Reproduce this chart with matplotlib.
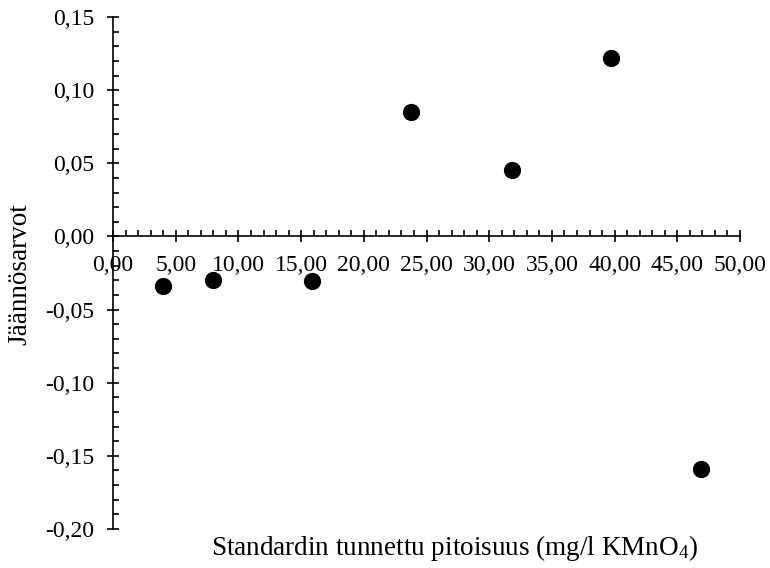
import matplotlib
matplotlib.use('Agg')
import matplotlib.pyplot as plt
from matplotlib.ticker import MultipleLocator, FuncFormatter

plt.rcParams['font.family'] = ['Liberation Serif', 'DejaVu Serif']
plt.rcParams['mathtext.fontset'] = 'custom'
plt.rcParams['mathtext.rm'] = 'Liberation Serif'
plt.rcParams['mathtext.default'] = 'regular'

# residuals vs known standard concentration
pitoisuus = [4.0, 8.0, 15.9, 23.8, 31.8, 39.7, 46.9]
jaannos = [-0.0336, -0.0295, -0.0306, 0.0851, 0.0454, 0.1219, -0.159]

fig = plt.figure(figsize=(7.7, 5.68), dpi=100)
ax = fig.add_axes([0.1468, 0.0687, 0.961 - 0.1468, 0.970 - 0.0687])

ax.scatter(pitoisuus, jaannos, s=130, color='black', zorder=3, clip_on=False)

ax.set_xlim(0, 50)
ax.set_ylim(-0.20, 0.15)

ax.spines['left'].set_position(('data', 0))
ax.spines['bottom'].set_position(('data', 0))
ax.spines['top'].set_visible(False)
ax.spines['right'].set_visible(False)
for s in ['left', 'bottom']:
    ax.spines[s].set_linewidth(1.2)

ax.xaxis.set_major_locator(MultipleLocator(5))
ax.xaxis.set_minor_locator(MultipleLocator(1))
ax.yaxis.set_major_locator(MultipleLocator(0.05))
ax.yaxis.set_minor_locator(MultipleLocator(0.01))

def pilkku(v, pos):
    return ('%.2f' % v).replace('.', ',').replace('-0,00', '0,00')

ax.xaxis.set_major_formatter(FuncFormatter(pilkku))
ax.yaxis.set_major_formatter(FuncFormatter(pilkku))

ax.tick_params(which='major', direction='inout', length=8, width=1.2, labelsize=17, pad=9.5)
ax.tick_params(which='minor', direction='in', length=4.3, width=1.2)

ax.set_xlabel('Standardin tunnettu pitoisuus (mg/l KMnO$_4$)', fontsize=19.5)
ax.xaxis.label.set_va('center')
ax.xaxis.set_label_coords(0.545, -0.037, transform=ax.transAxes)
ax.set_ylabel('Jäännösarvot', fontsize=19.5)
ax.yaxis.label.set_va('center')
ax.yaxis.set_label_coords(-0.148, 0.498, transform=ax.transAxes)

fig.savefig('out.png', dpi=100)
